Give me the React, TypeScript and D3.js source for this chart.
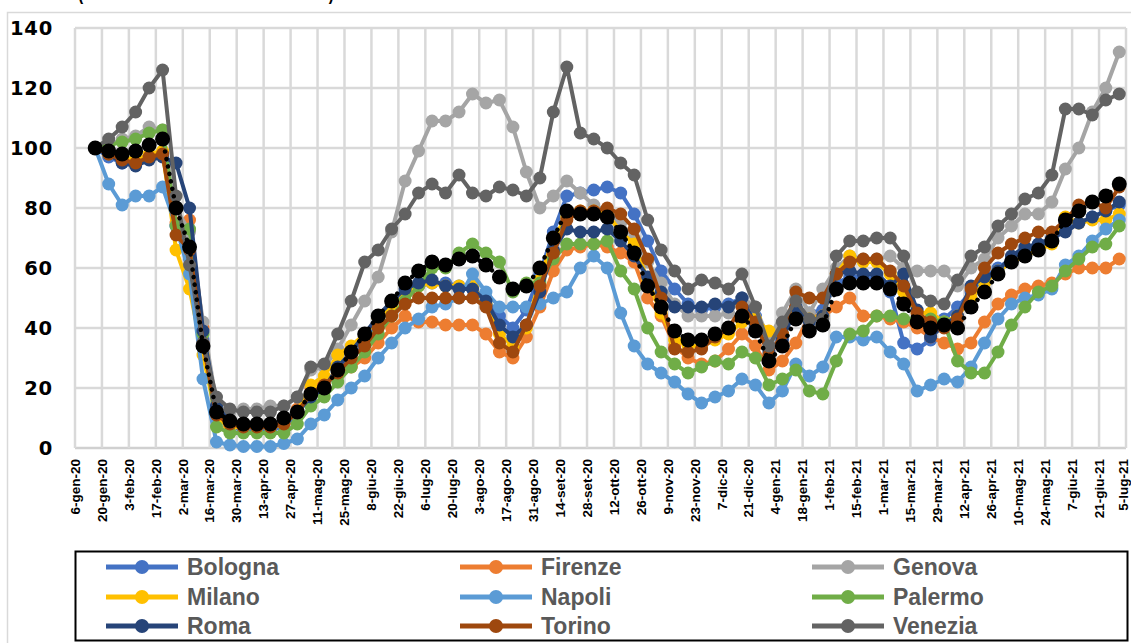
import React from 'react';
import * as d3 from 'd3';

const W = 1131;
const H = 643;

const tickLabels = [
  '6-gen-20', '20-gen-20', '3-feb-20', '17-feb-20', '2-mar-20', '16-mar-20', '30-mar-20', '13-apr-20',
  '27-apr-20', '11-mag-20', '25-mag-20', '8-giu-20', '22-giu-20', '6-lug-20', '20-lug-20', '3-ago-20',
  '17-ago-20', '31-ago-20', '14-set-20', '28-set-20', '12-ott-20', '26-ott-20', '9-nov-20', '23-nov-20',
  '7-dic-20', '21-dic-20', '4-gen-21', '18-gen-21', '1-feb-21', '15-feb-21', '1-mar-21', '15-mar-21',
  '29-mar-21', '12-apr-21', '26-apr-21', '10-mag-21', '24-mag-21', '7-giu-21', '21-giu-21', '5-lug-21',
];
const yTicks = [0, 20, 40, 60, 80, 100, 120, 140];

const bologna = [
  100, 97, 95, 95, 97, 98, 74, 63, 36, 10, 7, 6, 6, 6, 7, 11, 18, 20, 26, 31, 36, 42, 47, 52,
  54, 55, 55, 54, 53, 50, 44, 40, 46, 58, 72, 84, 85, 86, 87, 85, 78, 69, 59, 53, 48, 46, 47, 48,
  50, 44, 35, 38, 47, 45, 46, 55, 57, 57, 57, 52, 35, 33, 36, 43, 47, 52, 57, 60, 63, 66, 68, 70,
  73, 75, 77, 79, 81,
];
const firenze = [
  100, 98, 96, 96, 97, 98, 75, 76, 40, 12, 7, 7, 7, 7, 8, 13, 20, 22, 24, 27, 30, 35, 40, 44,
  42, 42, 41, 41, 41, 38, 32, 30, 37, 47, 59, 66, 67, 68, 67, 65, 62, 50, 44, 34, 30, 28, 29, 33,
  38, 34, 26, 29, 35, 44, 44, 47, 50, 44, 44, 43, 42, 40, 37, 35, 33, 35, 42, 48, 51, 53, 54, 55,
  58, 60, 60, 60, 63,
];
const genova = [
  100, 101, 103, 104, 107, 106, 80, 72, 42, 15, 12, 13, 13, 14, 14, 17, 26, 27, 33, 41, 49, 57, 72, 89,
  99, 109, 109, 112, 118, 115, 116, 107, 92, 80, 84, 89, 85, 81, 79, 75, 70, 62, 55, 48, 44, 44, 44, 45,
  50, 47, 36, 45, 53, 45, 53, 60, 64, 63, 63, 64, 60, 59, 59, 59, 54, 60, 63, 70, 74, 78, 78, 82,
  93, 100, 112, 120, 132,
];
const milano = [
  100, 98, 97, 96, 98, 99, 66, 53, 31, 10, 7, 7, 7, 7, 8, 12, 21, 24, 31, 34, 38, 43, 47, 51,
  54, 55, 54, 54, 54, 48, 38, 34, 40, 56, 70, 77, 79, 79, 78, 72, 68, 56, 45, 36, 34, 34, 36, 38,
  42, 43, 39, 38, 46, 43, 44, 58, 64, 62, 62, 58, 52, 45, 45, 42, 44, 50, 55, 59, 62, 64, 66, 68,
  77, 75, 76, 76, 78,
];
const napoli = [
  100, 88, 81, 84, 84, 87, 74, 58, 23, 2, 1, 0.5, 0.5, 0.5, 1.5, 3, 8, 11, 16, 20, 24, 30, 35, 40,
  43, 47, 48, 50, 58, 52, 47, 47, 47, 48, 50, 52, 60, 64, 60, 45, 34, 28, 25, 22, 18, 15, 17, 19,
  23, 21, 15, 19, 28, 24, 27, 37, 37, 36, 37, 32, 28, 19, 21, 23, 22, 27, 35, 43, 48, 50, 51, 53,
  61, 64, 69, 73, 76,
];
const palermo = [
  100, 101, 102, 103, 105, 106, 74, 73, 38, 7, 5, 5, 5, 5, 5, 8, 14, 17, 22, 27, 32, 38, 44, 49,
  54, 60, 60, 65, 68, 65, 62, 52, 55, 55, 63, 68, 68, 68, 69, 59, 53, 40, 32, 28, 25, 27, 29, 28,
  32, 30, 21, 23, 26, 19, 18, 29, 38, 39, 44, 44, 43, 43, 43, 42, 29, 25, 25, 32, 41, 47, 52, 54,
  59, 63, 67, 68, 74,
];
const roma = [
  100, 98, 95, 94, 96, 97, 95, 80, 39, 14, 9, 8, 8, 8, 9, 12, 17, 20, 27, 32, 38, 44, 49, 53,
  55, 56, 54, 53, 53, 49, 41, 37, 41, 52, 66, 73, 72, 72, 73, 69, 64, 57, 52, 47, 47, 47, 48, 47,
  50, 41, 32, 36, 47, 42, 44, 58, 59, 58, 58, 54, 58, 46, 37, 41, 44, 54, 57, 59, 64, 67, 68, 70,
  72, 75, 77, 79, 82,
];
const torino = [
  100, 98, 96, 95, 97, 98, 71, 66, 35, 11, 8, 7, 7, 7, 8, 12, 18, 21, 25, 30, 34, 40, 44, 48,
  50, 50, 50, 50, 50, 47, 35, 32, 41, 54, 65, 76, 79, 79, 80, 78, 73, 63, 50, 33, 32, 33, 37, 40,
  47, 42, 31, 38, 52, 50, 50, 58, 62, 63, 63, 59, 54, 45, 42, 40, 43, 53, 60, 65, 68, 70, 72, 72,
  76, 81, 82, 80, 87,
];
const venezia = [
  100, 103, 107, 112, 120, 126, 84, 61, 35, 17, 13, 12, 12, 12, 14, 17, 27, 28, 38, 49, 62, 66, 73, 78,
  85, 88, 85, 91, 85, 84, 87, 86, 84, 90, 112, 127, 105, 103, 100, 95, 91, 76, 66, 59, 53, 56, 55, 53,
  58, 47, 34, 42, 49, 43, 43, 64, 69, 69, 70, 70, 64, 52, 49, 48, 56, 64, 67, 74, 78, 83, 85, 91,
  113, 113, 111, 116, 118,
];
const media = [
  100, 99, 98, 99, 101, 103, 80, 67, 34, 12, 9, 8, 8, 8, 10, 12, 18, 20, 26, 32, 38, 44, 49, 55,
  59, 62, 61, 63, 64, 61, 57, 53, 54, 60, 70, 79, 78, 78, 77, 72, 65, 54, 47, 39, 36, 36, 38, 40,
  44, 39, 29, 34, 43, 39, 41, 53, 55, 55, 55, 53, 48, 42, 40, 41, 40, 47, 52, 58, 62, 64, 66, 69,
  76, 79, 82, 84, 88,
];

const seriesNames = ['Bologna', 'Firenze', 'Genova', 'Milano', 'Napoli', 'Palermo', 'Roma', 'Torino', 'Venezia'];
const seriesValues = [bologna, firenze, genova, milano, napoli, palermo, roma, torino, venezia];
const seriesColors = ['#4472C4', '#ED7D31', '#A5A5A5', '#FFC000', '#5B9BD5', '#70AD47', '#264478', '#9E480E', '#636363'];

export default function App() {
  const axisStart = new Date(2020, 0, 6);
  const x = d3.scaleTime().domain([axisStart, new Date(2021, 6, 5)]).range([75, 1126]);
  const y = d3.scaleLinear().domain([0, 140]).range([448, 28]);
  const tickDates = tickLabels.map((_, k) => d3.timeDay.offset(axisStart, 14 * k));
  const dataDates = media.map((_, i) => d3.timeHour.offset(d3.timeDay.offset(new Date(2020, 0, 16), 7 * i), 12));
  const line = d3
    .line<number>()
    .x((_, i) => x(dataDates[i]))
    .y((v) => y(v));

  const [x0, x1] = x.range();
  const [yb, yt] = y.range();

  const legendCols = [106, 460, 812];
  const legendRows = [567, 597, 626];

  return (
    <svg width={W} height={H} style={{ position: 'absolute', left: 0, top: 0, background: '#fff' }}>
      <rect x={0} y={0} width={W} height={H} fill="#fff" />
      <rect x={7.5} y={12.5} width={1140} height={650} fill="none" stroke="#D9D9D9" strokeWidth={1.5} />
      <text x={78} y={0} fontFamily="Liberation Sans, Arial, sans-serif" fontWeight="bold" fontSize={20}
        textLength={256} lengthAdjust="spacingAndGlyphs">(INDICE SETTIMANALE BASE 100)</text>

      {/* grid */}
      {yTicks.map((t) => (
        <line key={'h' + t} x1={x0} x2={x1} y1={y(t)} y2={y(t)} stroke={t === 0 ? '#D0D0D0' : '#D9D9D9'} strokeWidth={2.5} />
      ))}
      {tickDates.map((d, k) => (
        <line key={'v' + k} x1={x(d)} x2={x(d)} y1={yt} y2={yb} stroke="#D9D9D9" strokeWidth={2.5} />
      ))}

      {/* y labels */}
      {yTicks.map((t) => (
        <text key={'yl' + t} x={53} y={y(t)} dy="0.36em" textAnchor="end" fontFamily="DejaVu Sans, sans-serif"
          fontWeight="bold" fontSize={19.5} letterSpacing={0.8}>{t}</text>
      ))}

      {/* x labels */}
      {tickDates.map((d, k) => (
        <text key={'xl' + k} transform={`translate(${Math.min(x(d), 1123)},459) rotate(-90)`} dy="0.35em" textAnchor="end"
          fontFamily="Liberation Sans, Arial, sans-serif" fontWeight="bold" fontSize={13.5}>{tickLabels[k]}</text>
      ))}

      {/* series */}
      {seriesValues.map((vals, s) => (
        <g key={seriesNames[s]}>
          <path d={line(vals) || ''} fill="none" stroke={seriesColors[s]} strokeWidth={4} strokeLinejoin="round" />
          {vals.map((v, i) => (
            <circle key={i} cx={x(dataDates[i])} cy={y(v)} r={6.5} fill={seriesColors[s]} />
          ))}
        </g>
      ))}
      <g>
        <path d={line(media) || ''} fill="none" stroke="#000" strokeWidth={4.5} strokeDasharray="0.1 7.5" strokeLinecap="round" />
        {media.map((v, i) => (
          <circle key={i} cx={x(dataDates[i])} cy={y(v)} r={7.5} fill="#000" />
        ))}
      </g>

      {/* legend */}
      <rect x={75.5} y={551.5} width={1052} height={89} fill="#fff" stroke="#000" strokeWidth={2} />
      {seriesNames.map((name, s) => {
        const cx = legendCols[s % 3];
        const cy = legendRows[Math.floor(s / 3)];
        return (
          <g key={'lg' + name}>
            <line x1={cx} x2={cx + 72} y1={cy} y2={cy} stroke={seriesColors[s]} strokeWidth={5} />
            <circle cx={cx + 36} cy={cy} r={7} fill={seriesColors[s]} />
            <text x={cx + 81} y={cy} dy="0.35em" fontFamily="Liberation Sans, Arial, sans-serif" fontWeight="bold"
              fontSize={23} fill="#595959">{name}</text>
          </g>
        );
      })}
    </svg>
  );
}
